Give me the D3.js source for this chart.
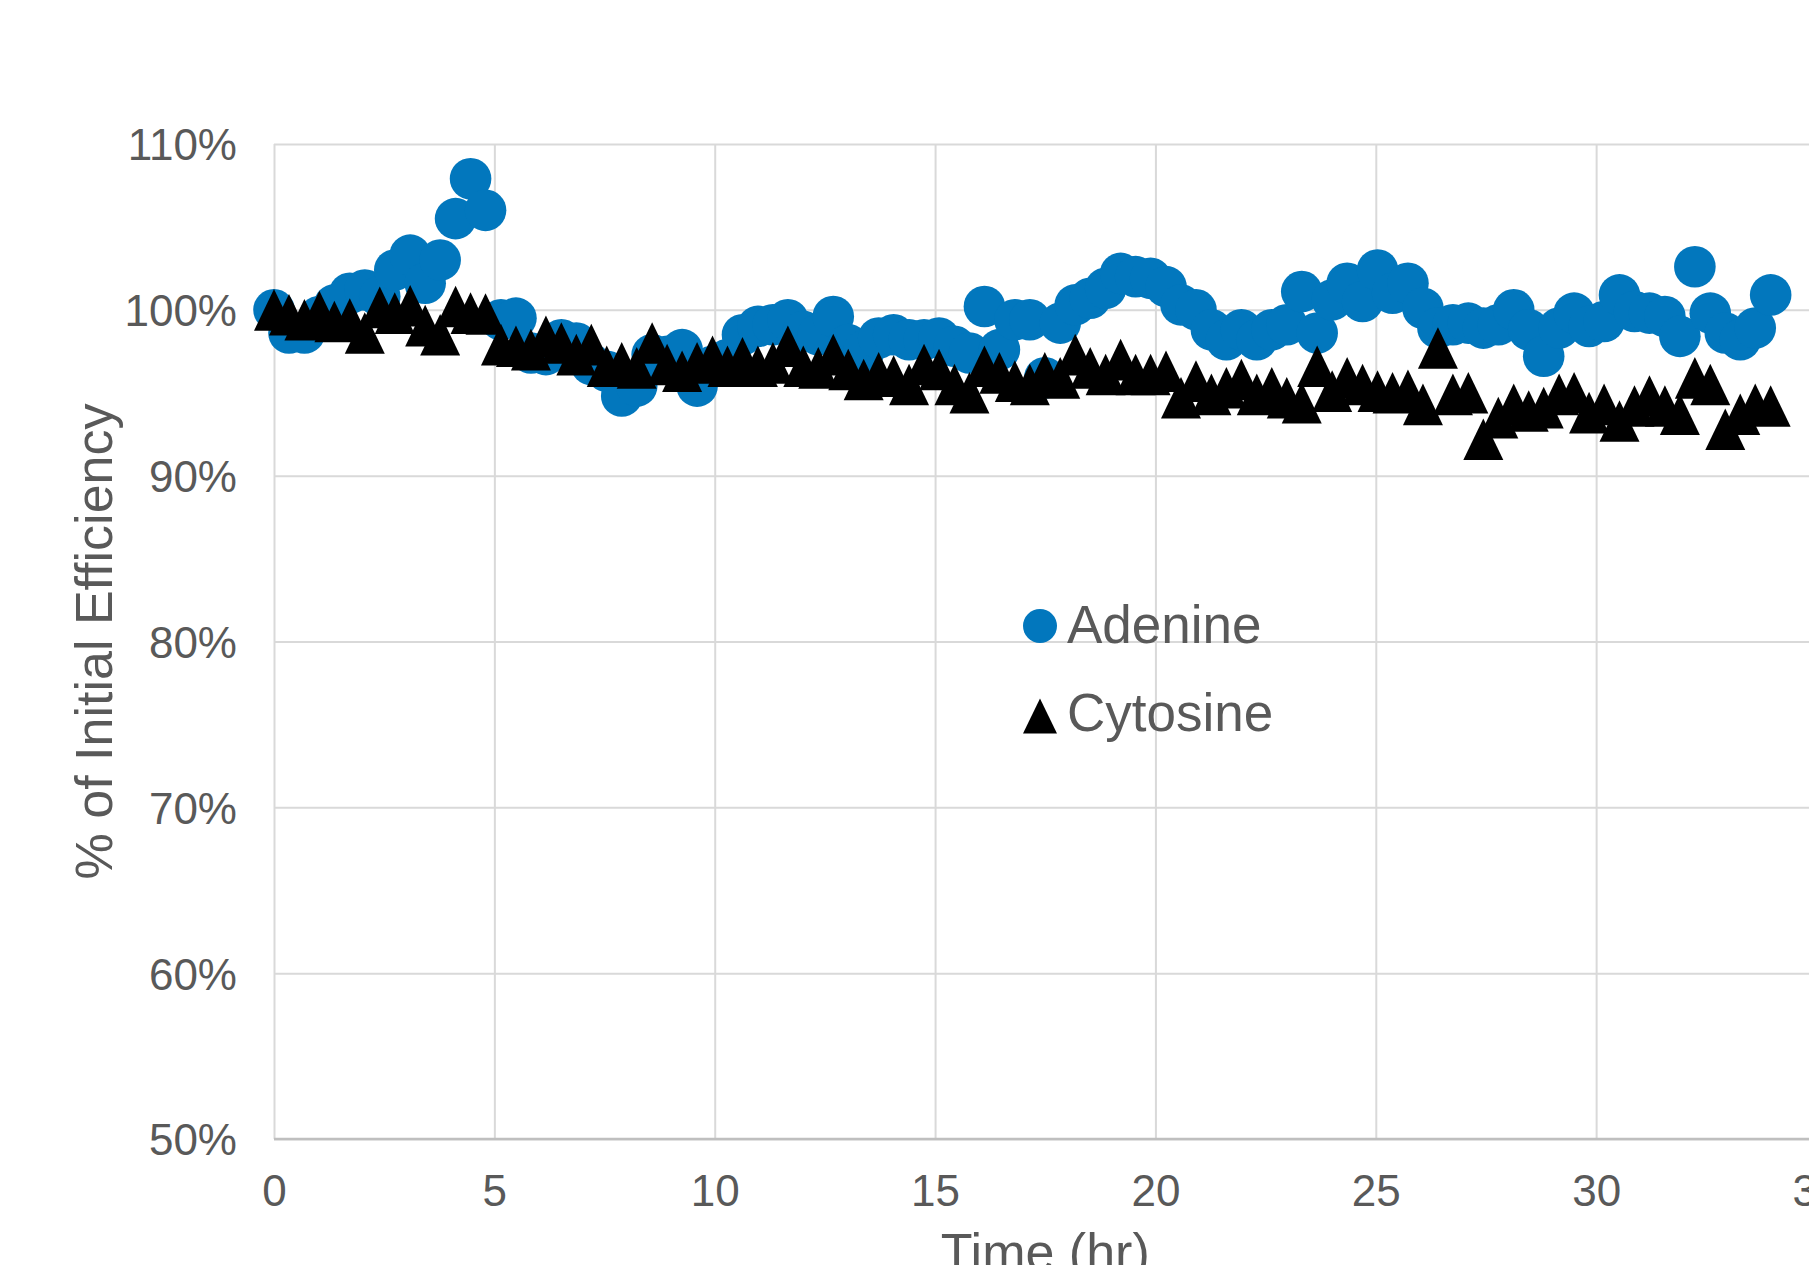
<!DOCTYPE html>
<html>
<head>
<meta charset="utf-8">
<script src="https://cdn.jsdelivr.net/npm/d3@7"></script>
<style>
  html, body { margin: 0; padding: 0; background: #ffffff; overflow: hidden; }
  svg { display: block; font-family: "Liberation Sans", Arial, sans-serif; }
</style>
</head>
<body>
<svg id="chart" width="1809" height="1265"></svg>
<script>
// Elapsed time of each measurement (hours)
const hours = [
  0, 0.34, 0.69, 1.03, 1.37, 1.72, 2.06, 2.40, 2.74, 3.09,
  3.43, 3.77, 4.12, 4.46, 4.80, 5.15, 5.49, 5.83, 6.17, 6.52,
  6.86, 7.20, 7.55, 7.89, 8.23, 8.58, 8.92, 9.26, 9.60, 9.95,
  10.29, 10.63, 10.98, 11.32, 11.66, 12.01, 12.35, 12.69, 13.03, 13.38,
  13.72, 14.06, 14.41, 14.75, 15.09, 15.44, 15.78, 16.12, 16.46, 16.81,
  17.15, 17.49, 17.84, 18.18, 18.52, 18.87, 19.21, 19.55, 19.89, 20.24,
  20.58, 20.92, 21.27, 21.61, 21.95, 22.30, 22.64, 22.98, 23.32, 23.67,
  24.01, 24.35, 24.70, 25.04, 25.38, 25.73, 26.07, 26.41, 26.75, 27.10,
  27.44, 27.78, 28.13, 28.47, 28.81, 29.16, 29.50, 29.84, 30.18, 30.53,
  30.87, 31.21, 31.56, 31.90, 32.24, 32.59, 32.93, 33.27, 33.61, 33.96
];

// Efficiency relative to the first measurement (%)
const adenine = [
  100.0, 98.6, 98.6, 99.6, 100.3, 101.0, 101.2, 100.8, 102.4, 103.3,
  101.6, 103.0, 105.5, 107.9, 106.0, 99.4, 99.5, 97.4, 97.3, 98.2,
  98.0, 96.7, 96.3, 94.8, 95.4, 97.3, 97.2, 97.6, 95.4, 96.6,
  97.0, 98.5, 99.0, 99.1, 99.4, 98.7, 98.5, 99.6, 97.9, 97.5,
  98.3, 98.5, 98.2, 98.2, 98.3, 97.8, 97.4, 100.2, 97.6, 99.4,
  99.4, 95.9, 99.2, 100.3, 100.7, 101.3, 102.2, 102.0, 101.9, 101.4,
  100.3, 100.0, 98.8, 98.2, 98.8, 98.2, 98.8, 99.1, 101.1, 98.6,
  100.6, 101.6, 100.5, 102.4, 101.0, 101.6, 100.1, 98.9, 99.1, 99.2,
  98.9, 99.1, 100.0, 98.8, 97.2, 98.9, 99.8, 99.0, 99.3, 100.9,
  99.9, 99.8, 99.6, 98.4, 102.6, 99.8, 98.6, 98.2, 98.9, 100.9
];

const cytosine = [
  100.0, 99.7, 99.4, 99.9, 99.3, 99.45, 98.6, 100.15, 99.8, 100.25,
  99.05, 98.5, 100.2, 99.8, 99.75, 97.9, 97.8, 97.6, 98.4, 98.0,
  97.3, 97.9, 96.6, 96.8, 96.5, 98.0, 96.7, 96.3, 96.8, 97.2,
  96.6, 97.1, 96.6, 96.8, 97.8, 96.6, 96.5, 97.3, 96.4, 95.8,
  96.2, 96.0, 95.5, 96.7, 96.4, 95.5, 95.0, 96.6, 96.2, 95.7,
  95.5, 96.2, 95.9, 97.3, 96.5, 96.1, 97.0, 96.1, 96.1, 96.3,
  94.7, 95.7, 94.9, 95.3, 95.8, 94.9, 95.3, 94.7, 94.4, 96.6,
  95.1, 95.9, 95.5, 95.1, 95.0, 95.15, 94.3, 97.7, 94.9, 95.0,
  92.2, 93.5, 94.3, 93.9, 94.1, 94.9, 95.0, 93.8, 94.3, 93.3,
  94.2, 94.8, 94.2, 93.7, 95.9, 95.5, 92.8, 93.7, 94.3, 94.2
];

const seriesNames = ["Adenine", "Cytosine"];
const xTicks = [0, 5, 10, 15, 20, 25, 30, 35];
const yTicks = [50, 60, 70, 80, 90, 100, 110];

(function drawChart() {
  const blue = "#0277BD";
  const textColor = "#595959";
  const gridColor = "#d9d9d9";
  const fontFamily = "'Liberation Sans', Arial, sans-serif";

  const plotLeft = 274, plotRight = 1816.5, plotTop = 144, plotBottom = 1139;

  const svg = d3.select("#chart");
  svg.append("rect").attr("width", 1809).attr("height", 1265).attr("fill", "#ffffff");

  const x = d3.scaleLinear().domain([0, 35]).range([plotLeft, plotRight]);
  const y = d3.scaleLinear().domain([50, 110]).range([plotBottom, plotTop]);

  // Horizontal gridlines and percentage labels
  const yAxis = svg.append("g")
    .attr("transform", `translate(${plotLeft},0)`)
    .call(d3.axisLeft(y).tickValues(yTicks)
      .tickFormat(d => d + "%")
      .tickSize(-(plotRight - plotLeft))
      .tickPadding(37));
  yAxis.select(".domain").remove();
  yAxis.selectAll(".tick line").attr("stroke", gridColor).attr("stroke-width", 2);
  yAxis.selectAll(".tick text")
    .attr("fill", textColor)
    .attr("font-size", 44)
    .attr("font-family", fontFamily)
    .attr("dy", "0.36em");

  // Vertical gridlines and hour labels
  const xAxis = svg.append("g")
    .attr("transform", `translate(0,${plotBottom})`)
    .call(d3.axisBottom(x).tickValues(xTicks)
      .tickFormat(d3.format("d"))
      .tickSize(-(plotBottom - plotTop))
      .tickPadding(36));
  xAxis.select(".domain").remove();
  xAxis.selectAll(".tick line").attr("stroke", gridColor).attr("stroke-width", 2);
  xAxis.selectAll(".tick text")
    .attr("fill", textColor)
    .attr("font-size", 44)
    .attr("font-family", fontFamily);

  // Horizontal axis line
  svg.append("line")
    .attr("x1", plotLeft).attr("x2", plotRight)
    .attr("y1", plotBottom).attr("y2", plotBottom)
    .attr("stroke", "#bfbfbf").attr("stroke-width", 2.5);

  // Adenine markers
  const adenineData = hours.map((t, i) => ({ t, v: adenine[i] }));
  svg.append("g").selectAll("circle")
    .data(adenineData)
    .join("circle")
    .attr("cx", d => x(d.t))
    .attr("cy", d => y(d.v))
    .attr("r", 20.8)
    .attr("fill", blue);

  // Cytosine markers (triangles centred on their bounding box)
  const tri = (hw, hh) => `M0,${-hh}L${hw},${hh}L${-hw},${hh}Z`;
  const cytosineData = hours.map((t, i) => ({ t, v: cytosine[i] }));
  svg.append("g").selectAll("path")
    .data(cytosineData)
    .join("path")
    .attr("d", tri(20, 20.8))
    .attr("transform", d => `translate(${x(d.t)},${y(d.v)})`)
    .attr("fill", "#000000");

  // Legend
  const legend = svg.append("g").attr("font-family", fontFamily);
  legend.append("circle").attr("cx", 1040).attr("cy", 626).attr("r", 17).attr("fill", blue);
  legend.append("text").attr("x", 1067).attr("y", 643)
    .attr("fill", textColor).attr("font-size", 53).text(seriesNames[0]);
  legend.append("path").attr("d", tri(17, 17.5))
    .attr("transform", "translate(1040,716)").attr("fill", "#000000");
  legend.append("text").attr("x", 1067).attr("y", 731)
    .attr("fill", textColor).attr("font-size", 53).text(seriesNames[1]);

  // Axis titles
  svg.append("text")
    .attr("transform", `translate(112,${(plotTop + plotBottom) / 2}) rotate(-90)`)
    .attr("text-anchor", "middle")
    .attr("font-family", fontFamily)
    .attr("fill", textColor).attr("font-size", 52)
    .text("% of Initial Efficiency");

  svg.append("text")
    .attr("x", (plotLeft + plotRight) / 2).attr("y", 1270)
    .attr("text-anchor", "middle")
    .attr("font-family", fontFamily)
    .attr("fill", textColor).attr("font-size", 52)
    .text("Time (hr)");
})();
</script>
</body>
</html>
